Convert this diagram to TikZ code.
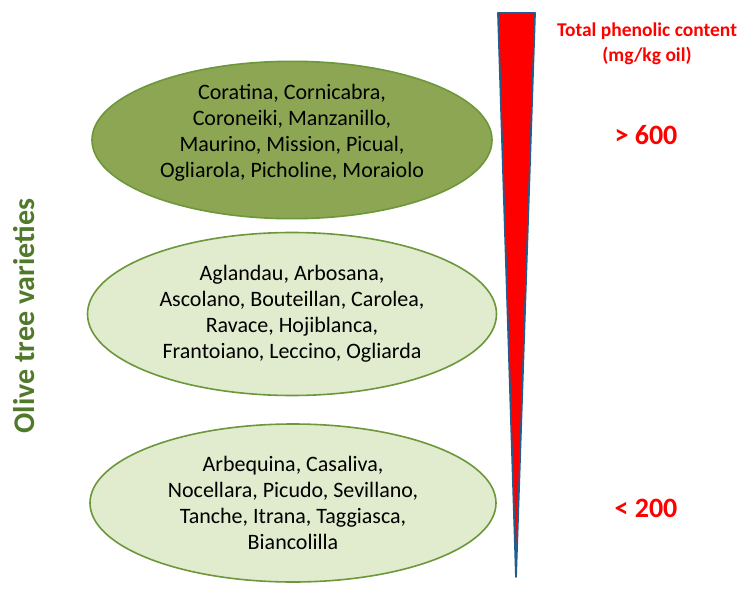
\documentclass[tikz,border=0pt]{standalone}
\usepackage{fontspec}
\setmainfont{Carlito}
\usetikzlibrary{shapes.geometric,positioning}
\definecolor{olivedark}{HTML}{8CA653}
\definecolor{olivelight}{HTML}{E1EBCD}
\definecolor{oliveline}{HTML}{6C973A}
\definecolor{olivetext}{HTML}{50792A}
\definecolor{wedgeblue}{HTML}{1F5E8E}
\tikzset{
  variety/.style = {draw=oliveline, line width=1.6pt, ellipse, inner sep=0pt, align=center, font=\fontsize{22}{26}\selectfont},
  rich/.style = {variety, fill=olivedark},
  poor/.style = {variety, fill=olivelight},
  level/.style = {text=red, font=\bfseries\fontsize{28}{32}\selectfont},
  axislabel/.style = {text=olivetext, font=\bfseries\fontsize{30}{34}\selectfont}
}

\begin{document}
\begin{tikzpicture}[x=1pt, y=-1pt]
  \useasboundingbox (0,0) rectangle (741,589);
  % varieties grouped by phenolic content
  \node[rich, minimum width=400pt, minimum height=148pt, text depth=18pt] (high) at (292,140)
    {Coratina, Cornicabra,\\ Coroneiki, Manzanillo,\\ Maurino, Mission, Picual,\\ Ogliarola, Picholine, Moraiolo};
  \node[poor, minimum width=409pt, minimum height=163pt] (medium) at (292,314)
    {Aglandau, Arbosana,\\ Ascolano, Bouteillan, Carolea,\\ Ravace, Hojiblanca,\\ Frantoiano, Leccino, Ogliarda};
  \node[poor, minimum width=406pt, minimum height=158pt] (low) at (293,503)
    {Arbequina, Casaliva,\\ Nocellara, Picudo, Sevillano,\\ Tanche, Itrana, Taggiasca,\\ Biancolilla};
  \node[axislabel, rotate=90] (varieties) at (24,316) {Olive tree varieties};
  % wedge
  \coordinate (wl) at (498,13);
  \coordinate (wr) at (535,13);
  \coordinate (wtip) at (516,577);
  \draw[draw=wedgeblue, fill=red, line width=1.8pt, line join=round] (wl) -- (wr) -- (wtip) -- cycle;
  \node[text=red, font=\bfseries\fontsize{19.5}{25}\selectfont, align=center] (title) at (647,44)
    {Total phenolic content\\ (mg/kg oil)};
  \node[level] (top) at (646,135) {> 600};
  \node[level] (bottom) at (646,508) {< 200};
\end{tikzpicture}
\end{document}
